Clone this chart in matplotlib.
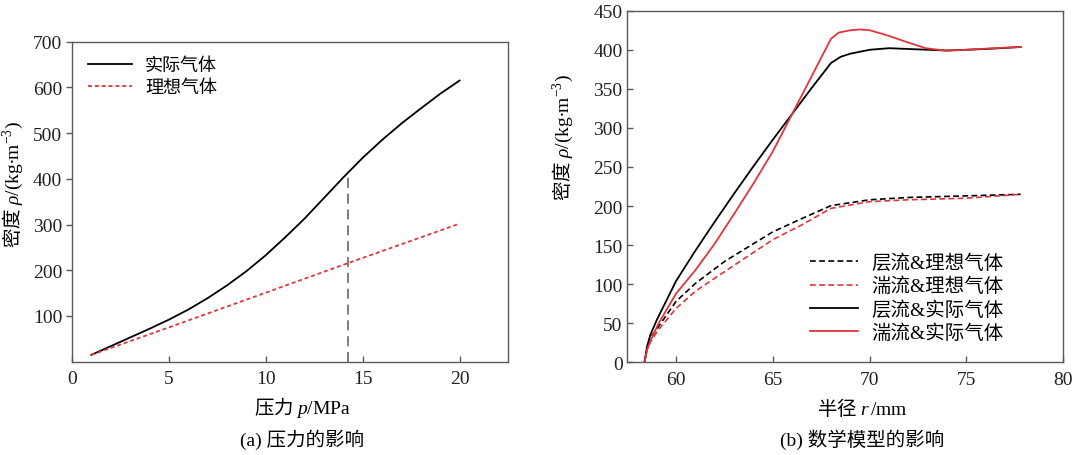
import matplotlib
matplotlib.use("Agg")
import matplotlib.pyplot as plt

plt.rcParams['font.family'] = ['Liberation Serif', 'Noto Sans CJK SC']
plt.rcParams['mathtext.fontset'] = 'custom'
plt.rcParams['mathtext.rm'] = 'Liberation Serif'
plt.rcParams['mathtext.it'] = 'Liberation Serif:italic'
plt.rcParams['mathtext.bf'] = 'Liberation Serif:bold'
plt.rcParams['font.size'] = 13

RED = '#e3343c'
SPINE = '#5a5a5a'
CJK = 'Noto Sans CJK SC'

# (a) pressure
p_real = [1, 2, 3, 4, 5, 6, 7, 8, 9, 10, 11, 12, 13, 14, 15, 16, 17, 18, 19, 20]
rho_real = [15, 34, 53, 72, 92, 114, 139, 167, 198, 233, 272, 313, 358, 403, 446,
            485, 521, 554, 586, 615]
p_ideal = [1, 5, 10, 14.2, 20]
rho_ideal = [15, 75, 151, 215, 302]
p_mark = 14.25
rho_mark = 414

# (b) radius
r_lam_real = [58.37, 58.5, 58.67, 59.0, 60, 61, 62, 63, 64, 65, 66, 67, 68, 68.5, 69, 70,
              71, 72, 74, 76, 77.8]
rho_lam_real = [0, 20, 35, 54, 104, 143, 180, 216, 251, 285, 318, 351, 383, 391, 395,
                400, 402, 401, 399, 401, 403.5]
r_tur_real = [58.37, 58.5, 58.67, 59.1, 60, 61, 62, 63, 64, 65, 66, 67, 68, 68.4, 69,
              69.5, 70, 70.9, 71.9, 72.9, 73.9, 75, 76.4, 77.8]
rho_tur_real = [0, 16, 27, 50, 88, 118, 152, 190, 229, 270, 318, 366, 414, 422, 425,
                426, 425, 418.5, 410, 402, 399, 400, 402, 403.6]
r_lam_ideal = [58.37, 58.5, 58.67, 59.1, 60, 61, 62.5, 65, 66.5, 68, 70, 72, 75, 77.8]
rho_lam_ideal = [0, 18, 31, 46, 78, 101, 129, 167, 184, 200.5, 208, 211, 213, 215]
r_tur_ideal = [58.37, 58.5, 58.67, 59.1, 60, 61, 62.5, 65, 66.5, 68, 70, 72, 75, 77.8]
rho_tur_ideal = [0, 16, 26, 42, 69, 91, 116, 157, 176, 197, 205.6, 208, 210, 215]

fig = plt.figure(figsize=(10.8, 4.56), dpi=100)
W, H = 1080, 456


def box(l, t, r, b):
    return [l / W, 1 - b / H, (r - l) / W, (b - t) / H]


def style(ax, ydir):
    for s in ax.spines.values():
        s.set_color(SPINE)
        s.set_linewidth(1.0)
    ax.tick_params(axis='x', direction='in', length=4, color=SPINE, width=1, pad=6)
    ax.tick_params(axis='y', direction=ydir, length=4, color=SPINE, width=1, pad=3)
    ax.tick_params(labelsize=14, labelcolor='#222222')


ax1 = fig.add_axes(box(72, 42.7, 508, 362.7))
ax1.plot(p_real, rho_real, color='black', lw=1.3, label='实际气体')
ax1.plot(p_ideal, rho_ideal, color=RED, lw=1.3, ls=(0, (2.2, 1.6)), label='理想气体')
ax1.plot([p_mark, p_mark], [0, rho_mark], color='#666666', lw=1.2, ls=(0, (6, 3.5)))
ax1.set_xlim(0, 22.5)
ax1.set_ylim(0, 700)
ax1.set_xticks([0, 5, 10, 15, 20])
ax1.set_yticks([100, 200, 300, 400, 500, 600, 700])
style(ax1, 'out')
ax1.legend(loc='upper left', bbox_to_anchor=(0.037, 0.952), frameon=False,
           handlelength=2.45, handletextpad=0.7, labelspacing=0.3,
           borderpad=0, borderaxespad=0, fontsize=13)

ax2 = fig.add_axes(box(626.7, 11.7, 1063.3, 363.3))
ax2.plot(r_lam_ideal, rho_lam_ideal, color='black', lw=1.2, ls=(0, (3.5, 2)),
         label='层流&理想气体')
ax2.plot(r_tur_ideal, rho_tur_ideal, color=RED, lw=1.2, ls=(0, (3.5, 2)),
         label='湍流&理想气体')
ax2.plot(r_lam_real, rho_lam_real, color='black', lw=1.3, label='层流&实际气体')
ax2.plot(r_tur_real, rho_tur_real, color=RED, lw=1.3, label='湍流&实际气体')
ax2.set_xlim(57.45, 80)
ax2.set_ylim(0, 450)
ax2.set_xticks([60, 65, 70, 75, 80])
ax2.set_yticks(range(0, 451, 50))
style(ax2, 'in')
ax2.legend(loc='upper left', bbox_to_anchor=(0.42, 0.31), frameon=False,
           handlelength=2.45, handletextpad=0.7, labelspacing=0.25,
           borderpad=0, borderaxespad=0, fontsize=14)

ylab = r'密度 $\rho/(\mathrm{kg}{\bullet}\mathrm{m}^{-3})$'
fig.text(13 / W, 1 - 185 / H, ylab, rotation=90, family=CJK,
         ha='center', va='center', fontsize=14)
fig.text(563 / W, 1 - 138 / H, ylab, rotation=90, family=CJK,
         ha='center', va='center', fontsize=14)
fig.text(302 / W, 1 - 408 / H, r'压力 $p/\mathrm{MPa}$', family=CJK,
         ha='center', va='center', fontsize=14)
fig.text(862 / W, 1 - 409 / H, r'半径 $r\,/\mathrm{mm}$', family=CJK,
         ha='center', va='center', fontsize=14)
fig.text(302 / W, 1 - 440 / H, '(a) 压力的影响', ha='center', va='center', fontsize=14)
fig.text(862 / W, 1 - 440 / H, '(b) 数学模型的影响', ha='center', va='center', fontsize=14)

fig.savefig('out.png', dpi=100, facecolor='white')
